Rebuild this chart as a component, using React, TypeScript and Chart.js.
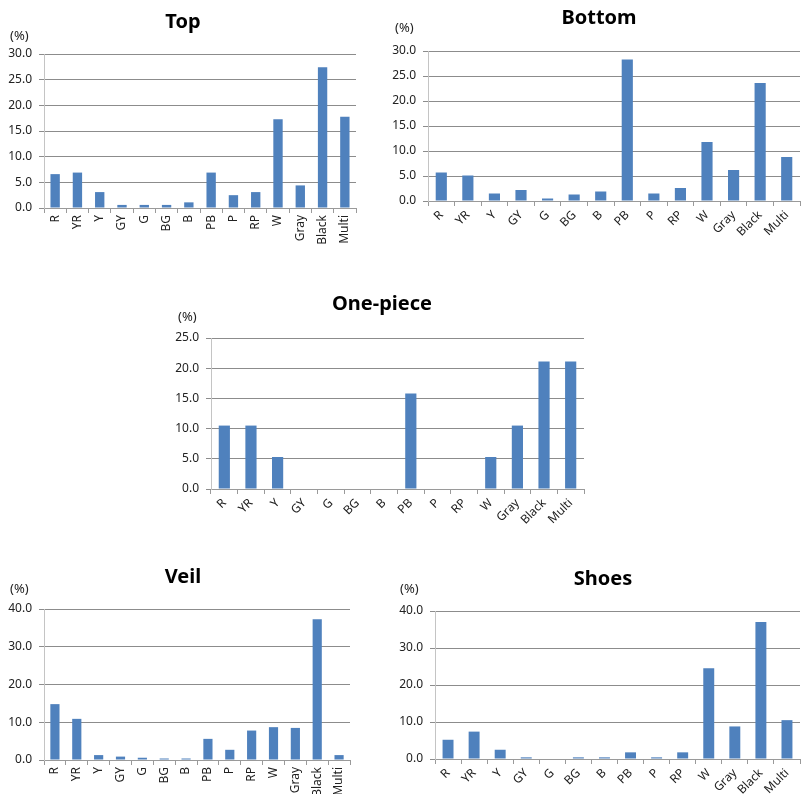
import React, { useEffect, useRef } from "react";
import { Chart, registerables } from "chart.js";

Chart.register(...registerables);

const categories = ["R", "YR", "Y", "GY", "G", "BG", "B", "PB", "P", "RP", "W", "Gray", "Black", "Multi"];

const topValues = [6.6, 6.9, 3.1, 0.6, 0.6, 0.6, 1.1, 6.9, 2.5, 3.1, 17.3, 4.4, 27.4, 17.8];
const bottomValues = [5.7, 5.1, 1.5, 2.2, 0.5, 1.3, 1.9, 28.3, 1.5, 2.6, 11.8, 6.2, 23.6, 8.8];
const onePieceValues = [10.5, 10.5, 5.3, 0, 0, 0, 0, 15.8, 0, 0, 5.3, 10.5, 21.1, 21.1];
const veilValues = [14.8, 10.9, 1.3, 0.9, 0.6, 0.4, 0.4, 5.6, 2.7, 7.8, 8.7, 8.5, 37.3, 1.3];
const shoesValues = [5.2, 7.4, 2.5, 0.45, 0, 0.45, 0.45, 1.8, 0.45, 1.8, 24.5, 8.8, 37.0, 10.5];

const titles = ["Top", "Bottom", "One-piece", "Veil", "Shoes"];
const yMax = [30, 30, 25, 40, 40];
const yStep = [5, 5, 5, 10, 10];
const unitLabel = "(%)";

const FONT = "'Noto Sans', 'DejaVu Sans', sans-serif";

type Layout = {
  x: number; y: number; w: number; h: number;
  l: number; t: number; r: number; b: number;
  titleX: number; titleY: number;
  unitX: number; unitY: number;
  rot: number;
};

const layouts: Layout[] = [
  { x: 0, y: 0, w: 390, h: 255, l: 44, t: 54, r: 356, b: 208, titleX: 183, titleY: 22, unitX: 10, unitY: 36, rot: 90 },
  { x: 390, y: 0, w: 411, h: 255, l: 428, t: 51, r: 800, b: 201, titleX: 599, titleY: 18, unitX: 395, unitY: 28, rot: 45 },
  { x: 160, y: 280, w: 440, h: 265, l: 211, t: 338, r: 584, b: 489, titleX: 382, titleY: 304, unitX: 178, unitY: 317, rot: 45 },
  { x: 0, y: 555, w: 390, h: 239, l: 44, t: 609, r: 350, b: 760, titleX: 183, titleY: 577, unitX: 10, unitY: 589, rot: 90 },
  { x: 390, y: 555, w: 411, h: 239, l: 435, t: 611, r: 800, b: 759, titleX: 603, titleY: 579, unitX: 400, unitY: 589, rot: 45 },
];

const seriesList = [topValues, bottomValues, onePieceValues, veilValues, shoesValues];

function BarPanel({ idx }: { idx: number }) {
  const ref = useRef<HTMLCanvasElement | null>(null);
  const L = layouts[idx];
  useEffect(() => {
    if (!ref.current) return;
    const textPlugin = {
      id: "texts" + idx,
      afterDraw(chart: any) {
        const ctx = chart.ctx;
        ctx.save();
        ctx.fillStyle = "#000";
        ctx.font = `bold 20px ${FONT}`;
        ctx.textAlign = "center";
        ctx.textBaseline = "middle";
        ctx.fillText(titles[idx], L.titleX - L.x, L.titleY - L.y);
        ctx.font = `13px ${FONT}`;
        ctx.fillStyle = "#222";
        ctx.textAlign = "left";
        ctx.fillText(unitLabel, L.unitX - L.x, L.unitY - L.y);
        ctx.restore();
      },
    };
    const chart = new Chart(ref.current, {
      type: "bar",
      data: {
        labels: categories,
        datasets: [
          {
            data: seriesList[idx],
            backgroundColor: "#4F81BD",
            borderWidth: 0,
            barPercentage: 0.42,
            categoryPercentage: 1.0,
          },
        ],
      },
      options: {
        responsive: false,
        animation: false,
        layout: {
          padding: { left: 0, top: L.t - L.y, right: L.x + L.w - L.r, bottom: 0 },
        },
        plugins: { legend: { display: false }, title: { display: false }, tooltip: { enabled: false } },
        scales: {
          x: {
            offset: true,
            grid: {
              offset: true,
              drawOnChartArea: false,
              drawTicks: true,
              tickLength: 5,
              color: "#9A9A9A",
            },
            border: { color: "#9A9A9A" },
            ticks: {
              minRotation: L.rot,
              maxRotation: L.rot,
              autoSkip: false,
              padding: 2,
              color: "#222",
              font: { family: FONT, size: 12 },
            },
            afterFit(scale: any) {
              scale.height = L.y + L.h - L.b;
            },
          },
          y: {
            min: 0,
            max: yMax[idx],
            ticks: {
              stepSize: yStep[idx],
              padding: 7,
              color: "#222",
              font: { family: FONT, size: 12 },
              callback: (v: any) => Number(v).toFixed(1),
            },
            grid: { color: "#8C8C8C", tickLength: 5, drawTicks: true },
            border: { color: "#C4C4C4" },
            afterFit(scale: any) {
              scale.width = L.l - L.x;
            },
          },
        },
      },
      plugins: [textPlugin],
    });
    return () => chart.destroy();
  }, [idx]);
  return (
    <canvas
      ref={ref}
      width={L.w}
      height={L.h}
      style={{ position: "absolute", left: L.x, top: L.y, width: L.w, height: L.h }}
    />
  );
}

export default function App() {
  return (
    <div style={{ position: "absolute", left: 0, top: 0, width: 801, height: 794, background: "#fff", overflow: "hidden" }}>
      {titles.map((_, i) => (
        <BarPanel key={i} idx={i} />
      ))}
    </div>
  );
}
